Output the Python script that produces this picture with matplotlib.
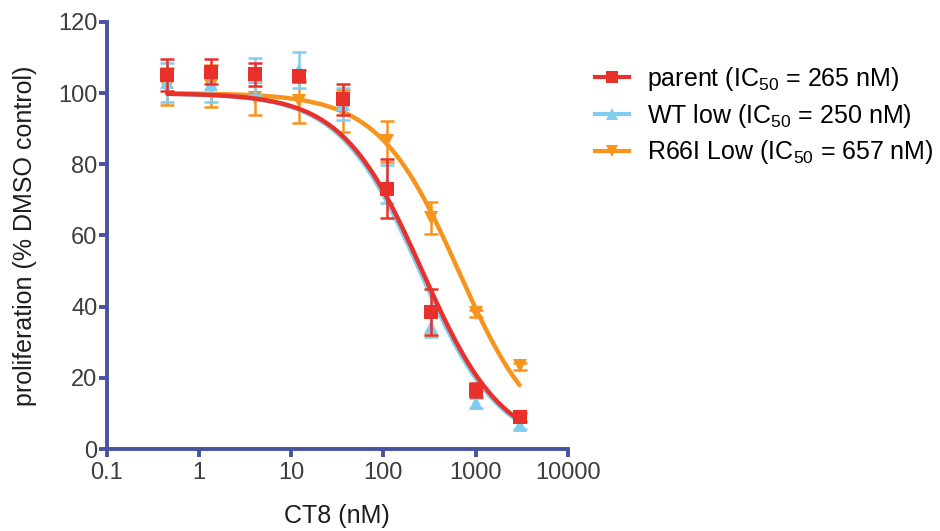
import numpy as np
import matplotlib
matplotlib.use("Agg")
import matplotlib.pyplot as plt
from matplotlib.lines import Line2D
from matplotlib.ticker import FixedLocator, FixedFormatter, NullLocator

plt.rcParams['font.family'] = ['Liberation Sans', 'DejaVu Sans']
plt.rcParams['mathtext.fontset'] = 'custom'
plt.rcParams['mathtext.rm'] = 'Liberation Sans'

# CT8 concentrations (nM), 3-fold dilution series
conc = [0.457, 1.37, 4.12, 12.3, 37.0, 111.0, 333.0, 1000.0, 3000.0]

# proliferation (% DMSO control), mean and error
parent = [105.0, 106.0, 105.3, 104.8, 98.3, 73.2, 38.5, 16.6, 9.0]
parent_err = [4.5, 3.5, 3.3, 1.8, 4.3, 8.2, 6.5, 2.0, 1.0]

wt_low = [103.0, 102.5, 104.7, 106.5, 97.0, 74.5, 34.4, 12.9, 6.7]
wt_low_err = [5.5, 5.0, 5.3, 5.0, 4.5, 5.3, 3.0, 1.5, 1.0]

r66i_low = [101.8, 102.0, 98.6, 97.8, 95.0, 86.5, 65.0, 38.1, 23.3]
r66i_low_err = [5.2, 5.8, 4.6, 6.3, 6.0, 5.8, 4.5, 1.0, 1.0]

# fitted IC50 values (nM)
ic50_parent = 265
ic50_wt = 250
ic50_r66i = 657

x_ticks = [0.1, 1, 10, 100, 1000, 10000]
x_tick_labels = ['0.1', '1', '10', '100', '1000', '10000']
y_ticks = [0, 20, 40, 60, 80, 100, 120]

RED = '#e8312a'
BLUE = '#80cdf0'
ORANGE = '#f7941e'
NAVY = '#4653a0'


def hill(x, ic50, top=100.0, bottom=0.0, slope=1.0):
    return bottom + (top - bottom) / (1.0 + (x / ic50) ** slope)


fig = plt.figure(figsize=(9.4, 5.31), dpi=100)
ax = fig.add_axes([0.1133, 0.1544, 0.604 - 0.1133, 0.9586 - 0.1544])

xs = np.logspace(np.log10(conc[0]), np.log10(conc[-1]), 300)

series = [
    (r66i_low, r66i_low_err, ic50_r66i, ORANGE, 'v', 10),
    (wt_low, wt_low_err, ic50_wt, BLUE, '^', 10),
    (parent, parent_err, ic50_parent, RED, 's', 9.5),
]

z = 2
for vals, errs, ic50, col, mk, ms in series:
    ax.plot(xs, hill(xs, ic50), color=col, lw=3.2, zorder=z, solid_capstyle='round')
    ax.errorbar(conc, vals, yerr=errs, fmt='none', ecolor=col, elinewidth=1.8,
                capsize=5, capthick=1.8, zorder=z + 0.5)
    ax.plot(conc, vals, linestyle='none', marker=mk, markersize=ms,
            color=col, markeredgewidth=0, zorder=z + 0.6)
    z += 1

ax.set_xscale('log')
ax.set_xlim(0.1, 10000)
ax.set_ylim(0, 120)
ax.xaxis.set_major_locator(FixedLocator(x_ticks))
ax.xaxis.set_major_formatter(FixedFormatter(x_tick_labels))
ax.xaxis.set_minor_locator(NullLocator())
ax.set_yticks(y_ticks)

for side in ('top', 'right'):
    ax.spines[side].set_visible(False)
for side in ('left', 'bottom'):
    ax.spines[side].set_color(NAVY)
    ax.spines[side].set_linewidth(2.8)

ax.tick_params(axis='both', which='major', direction='out', length=6,
               width=2.8, color=NAVY, labelsize=17, labelcolor='#3d3d3d')
ax.tick_params(axis='y', pad=0.5)
ax.tick_params(axis='x', pad=3)

ax.set_xlabel('CT8 (nM)', fontsize=18, color='#1e1e1e', labelpad=15)
ax.set_ylabel('proliferation (% DMSO control)', fontsize=18, color='#1e1e1e', labelpad=15)

handles = [
    Line2D([], [], color=RED, lw=3, marker='s', markersize=8, markeredgewidth=0),
    Line2D([], [], color=BLUE, lw=3, marker='^', markersize=8, markeredgewidth=0),
    Line2D([], [], color=ORANGE, lw=3, marker='v', markersize=8, markeredgewidth=0),
]
labels = [
    r'parent (IC$_{\mathregular{50}}$ = %d nM)' % ic50_parent,
    r'WT low (IC$_{\mathregular{50}}$ = %d nM)' % ic50_wt,
    r'R66I Low (IC$_{\mathregular{50}}$ = %d nM)' % ic50_r66i,
]
fig.legend(handles, labels, loc='upper left', bbox_to_anchor=(0.633, 0.878),
           frameon=False, fontsize=18, handlelength=1.35, handletextpad=0.72,
           labelspacing=0.35, borderaxespad=0, borderpad=0)

fig.savefig('out.png', dpi=100)
